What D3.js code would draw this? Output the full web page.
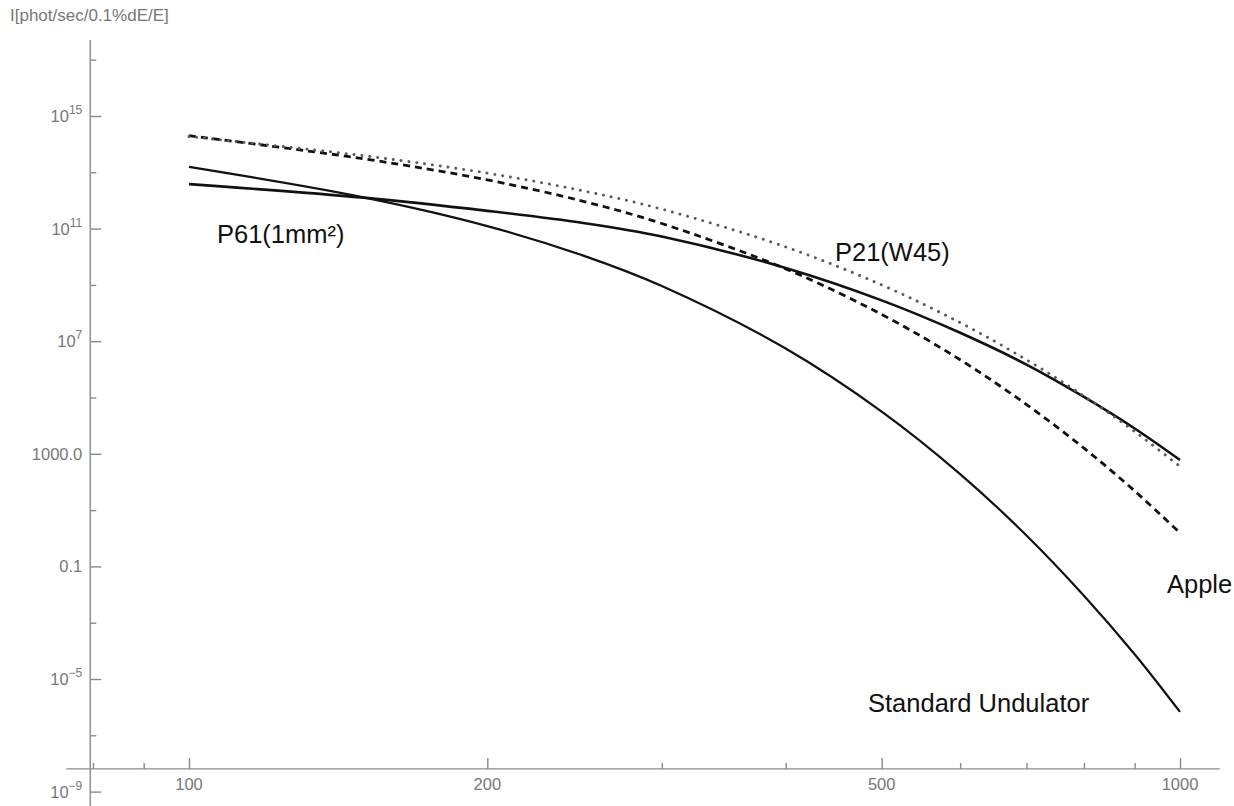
<!DOCTYPE html>
<html><head><meta charset="utf-8">
<script src="https://cdn.jsdelivr.net/npm/d3@7"></script>
<style>
html,body{margin:0;padding:0;background:#fff;}
svg{display:block;font-family:"Liberation Sans",Arial,sans-serif;}
</style></head>
<body>
<svg id="chart" width="1234" height="806"></svg>
<script>
// ---- data (log10 of intensity) ----
const energies = [100,150,200,250,300,400,500,600,700,800,900,1000];
const standardUndulator = [13.19,12.11,11.09,10.04,8.96,6.74,4.5,2.28,0.1,-2.04,-4.12,-6.17];
const p61 = [12.58,12.1,11.63,11.2,10.72,9.6,8.45,7.3,6.17,5.02,3.9,2.78];
const p21 = [14.27,13.59,12.97,12.34,11.69,10.35,9.0,7.66,6.34,5.05,3.79,2.55];
const apple = [14.3,13.48,12.73,11.97,11.18,9.57,7.95,6.34,4.75,3.2,1.68,0.19];

const xMajorTicks = [100,200,500,1000];
const xMajorLabels = ["100","200","500","1000"];
const xMinorTicks = [80,90,300,400,600,700,800,900];
const yMajorTicks = [1e15,1e11,1e7,1e3,1e-1,1e-5,1e-9];
const yMajorLabels = [["10","15"],["10","11"],["10","7"],["1000.0",null],["0.1",null],["10","\u22125"],["10","\u22129"]];
const yMinorTicks = [1e17,1e13,1e9,1e5,1e1,1e-3,1e-7];
const yTitle = "I[phot/sec/0.1%dE/E]";
const annotationTexts = ["P61(1mm\u00b2)","P21(W45)","Apple","Standard Undulator"];

const svg = d3.select("#chart");
const W = 1234, H = 806;
const x = d3.scaleLog().domain([100,1000]).range([189,1180]);
const y = d3.scaleLog().domain([1e-9,1e15]).range([791.6,116]);

const axisColor = "#8a8a8a", labelColor = "#777";
const axisX0 = x(79.5);          // y-axis position (axes origin)
const axisY0 = y(6.4e-9);        // x-axis position

// y axis line
svg.append("line").attr("x1",axisX0).attr("x2",axisX0)
  .attr("y1",y(5e17)).attr("y2",H)
  .attr("stroke",axisColor).attr("stroke-width",1.4);
// x axis line
svg.append("line").attr("x1",x(75.2)).attr("x2",x(1097)).attr("y1",axisY0).attr("y2",axisY0)
  .attr("stroke",axisColor).attr("stroke-width",1.4);

// y ticks
const gy = svg.append("g").attr("transform",`translate(${axisX0},0)`);
gy.call(d3.axisRight(y).tickValues(yMajorTicks).tickSize(11).tickFormat(""));
const gy2 = svg.append("g").attr("transform",`translate(${axisX0},0)`);
gy2.call(d3.axisRight(y).tickValues(yMinorTicks).tickSize(6).tickFormat(""));
[gy,gy2].forEach(g=>{g.select(".domain").remove();g.selectAll("line").attr("stroke",axisColor).attr("stroke-width",1.4);});

// x ticks
const gx = svg.append("g").attr("transform",`translate(0,${axisY0})`);
gx.call(d3.axisTop(x).tickValues(xMajorTicks).tickSize(11).tickFormat(""));
const gx2 = svg.append("g").attr("transform",`translate(0,${axisY0})`);
gx2.call(d3.axisTop(x).tickValues(xMinorTicks).tickSize(6).tickFormat(""));
[gx,gx2].forEach(g=>{g.select(".domain").remove();g.selectAll("line").attr("stroke",axisColor).attr("stroke-width",1.4);});

// x labels
svg.append("g").selectAll("text").data(xMajorTicks).join("text")
  .attr("x",d=>x(d)).attr("y",axisY0+21).attr("text-anchor","middle")
  .attr("font-size",16.5).attr("fill",labelColor)
  .text((d,i)=>xMajorLabels[i]);

// y labels
const yl = svg.append("g").selectAll("text").data(yMajorTicks).join("text")
  .attr("x",axisX0-8).attr("y",d=>y(d)+6).attr("text-anchor","end")
  .attr("font-size",16.5).attr("fill",labelColor);
yl.each(function(d,i){
  const t = d3.select(this); const lab = yMajorLabels[i];
  t.append("tspan").text(lab[0]);
  if(lab[1]!==null){
    t.append("tspan").attr("font-size",12).attr("dy",-8).text(lab[1]);
  }
});

// y title
svg.append("text").attr("x",10).attr("y",21).attr("font-size",17).attr("fill",labelColor).text(yTitle);

// curves
const line = d3.line().x((d,i)=>x(energies[i])).y(d=>y(Math.pow(10,d))).curve(d3.curveCatmullRom.alpha(0.5));
svg.append("path").datum(standardUndulator).attr("d",line).attr("fill","none").attr("stroke","#111").attr("stroke-width",2.2);
svg.append("path").datum(p61).attr("d",line).attr("fill","none").attr("stroke","#111").attr("stroke-width",2.6);
svg.append("path").datum(apple).attr("d",line).attr("fill","none").attr("stroke","#111").attr("stroke-width",2.8).attr("stroke-dasharray","7,5");
svg.append("path").datum(p21).attr("d",line).attr("fill","none").attr("stroke","#5a5a5a").attr("stroke-width",2.9)
  .attr("stroke-linecap","round").attr("stroke-dasharray","0.1,7.8");

// annotations
const annPos = [[217,243],[835,261],[1167,593],[868,712]];
svg.append("g").selectAll("text").data(annotationTexts).join("text")
  .attr("x",(d,i)=>annPos[i][0]).attr("y",(d,i)=>annPos[i][1])
  .attr("font-size",25.5).attr("fill","#111").text(d=>d);
</script>
</body></html>
